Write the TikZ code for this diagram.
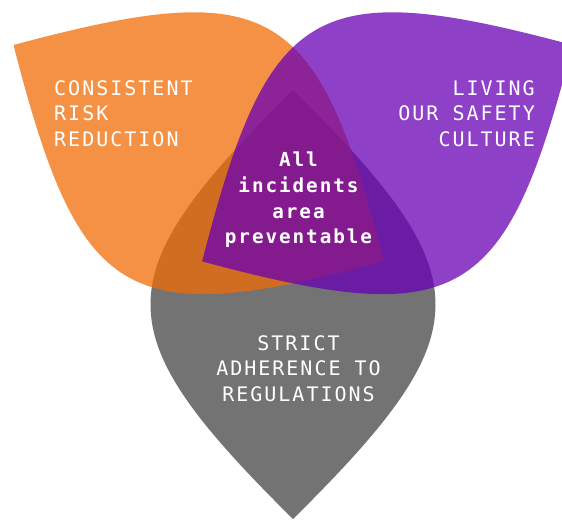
\documentclass[tikz,border=0pt]{standalone}
\usepackage{fontspec}
\newfontfamily\monofont{DejaVu Sans Mono}[LetterSpace=10]
\definecolor{leaforange}{RGB}{242,107,5}
\definecolor{leafpurple}{RGB}{105,0,181}
\definecolor{leafgray}{RGB}{115,115,115}
\tikzset{
  leafpath/.style={insert path={(0,0) .. controls (188,190) and (241,190) .. (429,0) .. controls (241,-190) and (188,-190) .. cycle}},
  grayleaf/.style={fill=leafgray},
  orangeleaf/.style={fill=leaforange, fill opacity=0.74},
  purpleleaf/.style={fill=leafpurple, fill opacity=0.75},
  lbl/.style={text=white, inner sep=0pt, font=\monofont\fontsize{20}{25.6}\selectfont},
  corelbl/.style={lbl, font=\monofont\bfseries\fontsize{19.3}{25.7}\selectfont}
}
\begin{document}
\begin{tikzpicture}[x=1pt,y=-1pt]
\useasboundingbox (0,0) rectangle (562,520);
\clip (0,0) rectangle (562,520);
\fill[white] (0,0) rectangle (562,520);
\begin{scope}[shift={(293,519)}, rotate=90]
  \path[grayleaf, leafpath];
\end{scope}
\begin{scope}[shift={(13.5,45)}, rotate=-30.3]
  \path[orangeleaf, leafpath];
\end{scope}
\begin{scope}[shift={(572.5,45)}, rotate=-149.7]
  \path[purpleleaf, leafpath];
\end{scope}
\node[lbl, anchor=north west, align=left] (risk) at (54,80) {CONSISTENT\\RISK\\REDUCTION};
\node[lbl, anchor=north east, align=right] (culture) at (535,80) {LIVING\\OUR SAFETY\\CULTURE};
\node[lbl, anchor=north, align=center] (regs) at (298.5,335) {STRICT\\ADHERENCE TO\\REGULATIONS};
\node[corelbl, anchor=north, align=center] (core) at (298.5,152) {All\\incidents\\area\\preventable};
\end{tikzpicture}
\end{document}
